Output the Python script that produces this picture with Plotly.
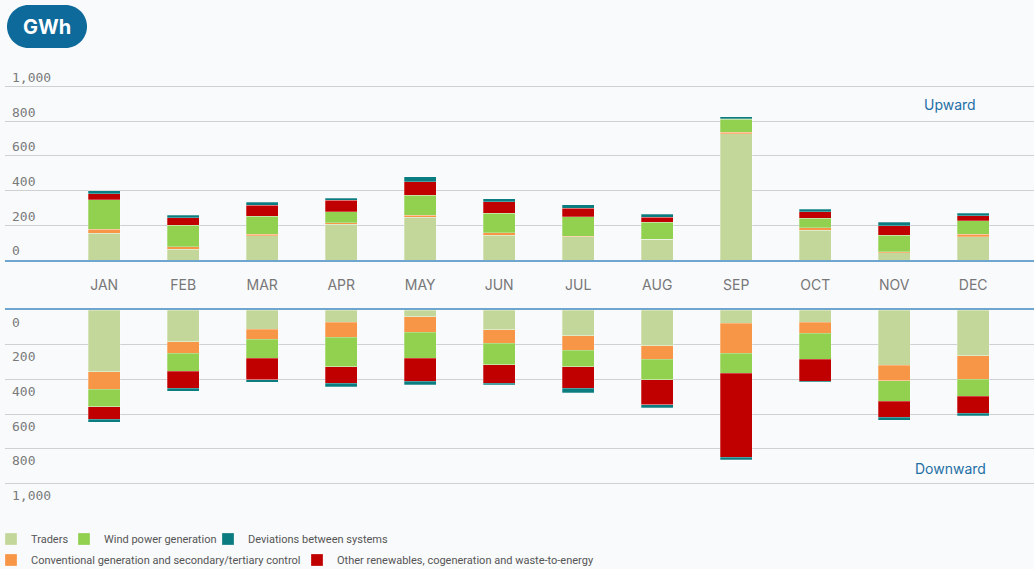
import plotly.graph_objects as go

# ---------------- data ----------------
months = ["JAN", "FEB", "MAR", "APR", "MAY", "JUN", "JUL", "AUG", "SEP", "OCT", "NOV", "DEC"]

name_traders = "Traders"
name_conventional = "Conventional generation and secondary/tertiary control"
name_wind = "Wind power generation"
name_other = "Other renewables, cogeneration and waste-to-energy"
name_deviations = "Deviations between systems"

# Upward (GWh)
up_traders = [155, 62, 139, 205, 247, 144, 133, 119, 727, 171, 42, 133]
up_conventional = [23, 13, 10, 11, 12, 14, 5, 2, 10, 14, 6, 15]
up_wind = [170, 126, 104, 62, 115, 111, 110, 98, 73, 57, 96, 77]
up_other = [35, 42, 62, 67, 78, 66, 50, 27, 3, 35, 54, 29]
up_deviations = [17, 14, 19, 12, 27, 17, 21, 19, 14, 15, 19, 15]

# Downward (GWh)
down_traders = [356, 183, 110, 71, 40, 113, 148, 206, 77, 71, 319, 263]
down_conventional = [100, 67, 59, 87, 89, 79, 85, 77, 171, 64, 89, 137]
down_wind = [102, 104, 108, 169, 150, 123, 94, 119, 117, 148, 117, 98]
down_other = [71, 98, 125, 94, 131, 106, 125, 144, 483, 127, 94, 98]
down_deviations = [19, 17, 15, 21, 21, 10, 25, 17, 15, 7, 16, 14]

y_ticks = [0, 200, 400, 600, 800, 1000]

# ---------------- styling ----------------
W, H = 1034, 569
ML, MR = 5, 0
PW = W - ML - MR
BG = "#f9fafc"

def px(x):
    return (x - ML) / PW

def py(y):
    return (H - y) / H

colors = {
    name_traders: "#c4d79b",
    name_conventional: "#f79646",
    name_wind: "#92d050",
    name_other: "#c00000",
    name_deviations: "#0b7d80",
}
legend_of = {
    name_traders: "legend",
    name_wind: "legend2",
    name_deviations: "legend3",
    name_conventional: "legend4",
    name_other: "legend5",
}

stack = [
    (name_traders, up_traders, down_traders),
    (name_conventional, up_conventional, down_conventional),
    (name_wind, up_wind, down_wind),
    (name_other, up_other, down_other),
    (name_deviations, up_deviations, down_deviations),
]

fig = go.Figure()
for name, up, down in stack:
    fig.add_trace(go.Bar(
        x=months, y=up, name=name, width=0.4,
        marker=dict(color=colors[name], line=dict(color="rgba(255,255,255,0.45)", width=0.6)),
        xaxis="x", yaxis="y", legend=legend_of[name], showlegend=True,
        hovertemplate="%{x}: %{y} GWh<extra>" + name + "</extra>",
    ))
    fig.add_trace(go.Bar(
        x=months, y=down, name=name, width=0.4,
        marker=dict(color=colors[name], line=dict(color="rgba(255,255,255,0.45)", width=0.6)),
        xaxis="x2", yaxis="y2", showlegend=False,
        hovertemplate="%{x}: %{y} GWh<extra>" + name + "</extra>",
    ))

step = 79.0
c0 = 104.2
xr = [-(c0 - ML) / step, 11 + (W - MR - (c0 + 11 * step)) / step]

top_zero, top_max = 260.0, 60.5
bot_zero, bot_max = 310.0, 509.5
rng = 1150

grid = "#cfd0d2"
blue = "#6fa6cf"
tickfont = dict(family="DejaVu Sans Mono, monospace", size=13, color="#7a7a7a")

legend_font = dict(family="Roboto, sans-serif", size=11, color="#555555")

def leg(text_x, ypix):
    return dict(x=px(text_x - 40), y=py(ypix), xanchor="left", yanchor="middle",
                orientation="h", bgcolor="rgba(0,0,0,0)", font=legend_font,
                itemwidth=30, borderwidth=0)

fig.update_layout(
    width=W, height=H,
    margin=dict(l=ML, r=MR, t=0, b=0, autoexpand=False),
    paper_bgcolor=BG, plot_bgcolor=BG,
    barmode="stack",
    bargap=0.6,
    xaxis=dict(domain=[0, 1], range=xr, anchor="y", showgrid=False, zeroline=False,
               showline=True, linecolor=blue, linewidth=2, ticks="",
               tickfont=dict(family="Inter, Roboto, sans-serif", size=14, color="#777777"),
               ticklabelstandoff=11, fixedrange=True),
    yaxis=dict(domain=[py(top_zero), py(top_max)], range=[0, rng], anchor="x",
               tickvals=y_ticks, tickformat=",", ticklabelposition="inside top",
               ticklabelstandoff=4,
               showgrid=True, gridcolor=grid, gridwidth=1, zeroline=False, showline=False,
               tickfont=tickfont, ticks=""),
    xaxis2=dict(domain=[0, 1], range=xr, anchor="y2", side="top", showgrid=False, zeroline=False,
                showline=True, linecolor=blue, linewidth=2, ticks="", showticklabels=False),
    yaxis2=dict(domain=[py(bot_max), py(bot_zero)], range=[rng, 0], anchor="x2",
                tickvals=y_ticks, tickformat=",", ticklabelposition="inside bottom",
                ticklabelstandoff=4, ticklabelshift=-3,
                showgrid=True, gridcolor=grid, gridwidth=1, zeroline=False, showline=False,
                tickfont=tickfont, ticks=""),
    legend=leg(31, 539),
    legend2=leg(104, 539),
    legend3=leg(248, 539),
    legend4=leg(31, 560),
    legend5=leg(337, 560),
    showlegend=True,
)

# GWh badge (rounded pill)
x0, x1, y0, y1 = 7, 87, 5, 48
r = (y1 - y0) / 2
k = 0.5523 * r
def P(x, y):
    return f"{px(x):.5f},{py(y):.5f}"
path = (
    f"M{P(x0 + r, y0)} L{P(x1 - r, y0)} "
    f"C{P(x1 - r + k, y0)} {P(x1, y0 + r - k)} {P(x1, y0 + r)} "
    f"C{P(x1, y0 + r + k)} {P(x1 - r + k, y1)} {P(x1 - r, y1)} "
    f"L{P(x0 + r, y1)} "
    f"C{P(x0 + r - k, y1)} {P(x0, y0 + r + k)} {P(x0, y0 + r)} "
    f"C{P(x0, y0 + r - k)} {P(x0 + r - k, y0)} {P(x0 + r, y0)} Z"
)
fig.add_shape(type="path", path=path, xref="paper", yref="paper",
              fillcolor="#0e6a9b", line=dict(width=0), layer="above")
fig.add_annotation(text="<b>GWh</b>", x=px((x0 + x1) / 2), y=py((y0 + y1) / 2),
                   xref="paper", yref="paper", showarrow=False,
                   font=dict(family="Inter, Roboto, sans-serif", size=20, color="white"),
                   xanchor="center", yanchor="middle")

fig.add_annotation(text="Upward", x=px(950), y=py(104), xref="paper", yref="paper",
                   showarrow=False, font=dict(family="Inter, Roboto, sans-serif", size=14, color="#1d6fa5"),
                   xanchor="center", yanchor="middle")
fig.add_annotation(text="Downward", x=px(950), y=py(468), xref="paper", yref="paper",
                   showarrow=False, font=dict(family="Inter, Roboto, sans-serif", size=14, color="#1d6fa5"),
                   xanchor="center", yanchor="middle")

fig.write_html(
    "out.html",
    config={"displayModeBar": False},
    post_script="document.body.style.margin='0px';document.body.style.background='" + BG + "';",
)
